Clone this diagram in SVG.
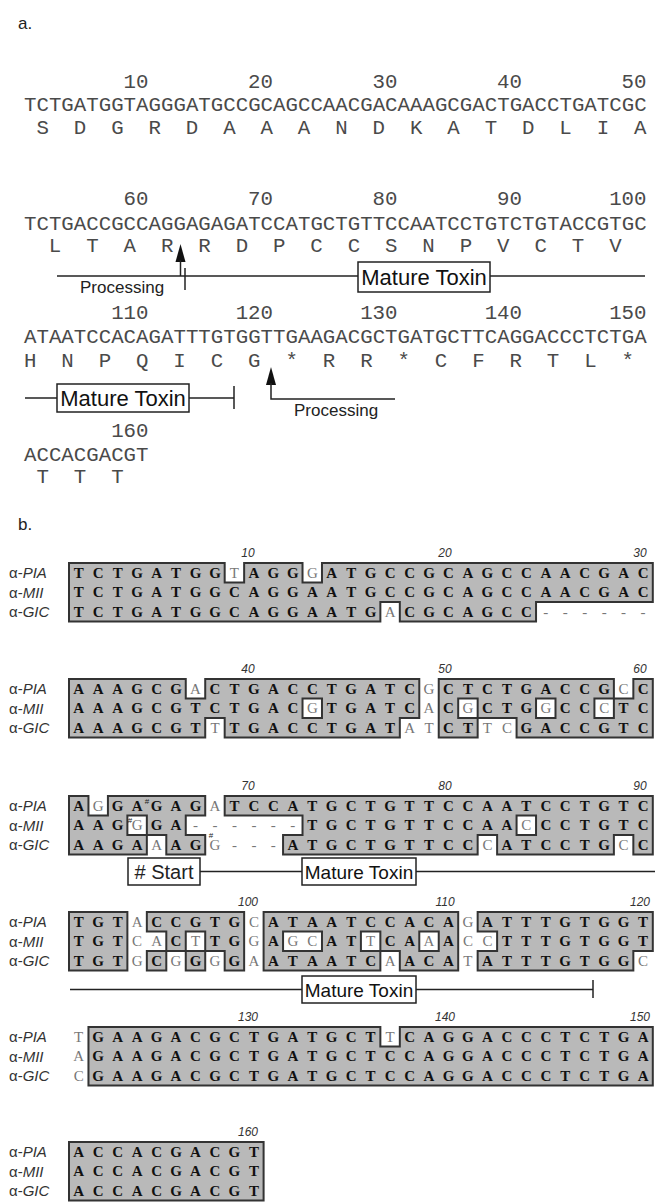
<svg xmlns="http://www.w3.org/2000/svg" width="655" height="1202" viewBox="0 0 655 1202">
<style>
.lab{font-family:'Liberation Sans',Arial,sans-serif;font-size:17px;fill:#222}
.m{font-family:'Liberation Mono','DejaVu Sans Mono',monospace;font-size:20.75px;fill:#4a4a4a}
.mc{font-family:'Liberation Mono','DejaVu Sans Mono',monospace;font-size:20.75px;fill:#4a4a4a;text-anchor:middle}
.me{font-family:'Liberation Mono','DejaVu Sans Mono',monospace;font-size:20.75px;fill:#4a4a4a;text-anchor:end}
.ann{font-family:'Liberation Sans',Arial,sans-serif;font-size:17px;fill:#222}
.mt{font-family:'Liberation Sans',Arial,sans-serif;font-size:22px;fill:#111;text-anchor:middle}
.mt2{font-family:'Liberation Sans',Arial,sans-serif;font-size:19px;fill:#111;text-anchor:middle}
.box{fill:#fff;stroke:#222;stroke-width:1.5}
.ln{stroke:#222;stroke-width:1.5;fill:none}
.sh{fill:#b9b9b9}
.ol{fill:none;stroke:#333;stroke-width:2;stroke-linecap:square}
.s{font-family:'Liberation Serif','Times New Roman',serif;font-size:15px;font-weight:bold;fill:#111;text-anchor:middle}
.w{font-weight:normal;fill:#777}
.nm{font-family:'Liberation Sans',Arial,sans-serif;font-size:12px;font-style:italic;fill:#333;text-anchor:middle}
.sq{font-family:'Liberation Sans',Arial,sans-serif;font-size:15px;fill:#333}
.it{font-style:italic}
.hs{font-family:'Liberation Sans',Arial,sans-serif;font-size:8px;fill:#222;text-anchor:middle}
</style>

<!-- Part a -->
<g id="part-a">
<text class="lab" x="18" y="29">a.</text>
<g id="a-row1">
<text class="me" x="148.5" y="88">10</text><text class="me" x="273" y="88">20</text><text class="me" x="397.5" y="88">30</text><text class="me" x="522" y="88">40</text><text class="me" x="646.5" y="88">50</text>
<text class="m" x="24" y="111">TCTGATGGTAGGGATGCCGCAGCCAACGACAAAGCGACTGACCTGATCGC</text>
<text class="mc" x="42.7 80 117.4 154.7 192.1 229.4 266.8 304.1 341.5 378.8 416.2 453.5 490.9 528.2 565.6 602.9 640.3" y="134">SDGRDAAANDKATDLIA</text>
</g>
<g id="a-row2">
<text class="me" x="148.5" y="205">60</text><text class="me" x="273" y="205">70</text><text class="me" x="397.5" y="205">80</text><text class="me" x="522" y="205">90</text><text class="me" x="646.5" y="205">100</text>
<text class="m" x="24" y="230">TCTGACCGCCAGGAGAGATCCATGCTGTTCCAATCCTGTCTGTACCGTGC</text>
<text class="mc" x="55.1 92.5 129.8 167.2 204.5 241.9 279.2 316.6 353.9 391.3 428.6 466 503.3 540.7 578 615.4" y="252">LTARRDPCCSNPVCTV</text>
</g>
<g id="a-row3">
<text class="me" x="148.5" y="319">110</text><text class="me" x="273" y="319">120</text><text class="me" x="397.5" y="319">130</text><text class="me" x="522" y="319">140</text><text class="me" x="646.5" y="319">150</text>
<text class="m" x="24" y="343">ATAATCCACAGATTTGTGGTTGAAGACGCTGATGCTTCAGGACCCTCTGA</text>
<text class="mc" x="30.2 67.6 104.9 142.3 179.6 217 254.3 291.7 329 366.4 403.7 441.1 478.4 515.8 553.1 590.5 627.8" y="367">HNPQICG*RR*CFRTL*</text>
</g>
<g id="a-row4">
<text class="me" x="148.5" y="437">160</text>
<text class="m" x="24" y="461">ACCACGACGT</text>
<text class="mc" x="42.7 80 117.4" y="483">TTT</text>
</g>
</g>

<g id="a-annotations">
<line class="ln" x1="57" y1="276" x2="645" y2="276"/>
<polygon points="180.5,244 175.5,262 185.5,262" fill="#111"/>
<line class="ln" x1="180.5" y1="260" x2="180.5" y2="276"/>
<line class="ln" x1="185" y1="268" x2="185" y2="290"/>
<text class="ann" x="80" y="293">Processing</text>
<g id="a-toxin1"><rect class="box" x="358" y="262" width="132" height="30"/><text class="mt" x="424" y="285">Mature Toxin</text></g>
<line class="ln" x1="25" y1="398" x2="234" y2="398"/>
<line class="ln" x1="234" y1="386" x2="234" y2="409"/>
<g id="a-toxin2"><rect class="box" x="57" y="384" width="132" height="28"/><text class="mt" x="123" y="406">Mature Toxin</text></g>
<polygon points="271,367 266,385 276,385" fill="#111"/>
<polyline class="ln" points="271,383 271,399 395,399"/>
<text class="ann" x="294" y="416">Processing</text>
</g>

<!-- Part b -->
<text class="lab" x="18" y="530">b.</text>

<g id="b-block1">
<text class="nm" x="248" y="557">10</text><text class="nm" x="445" y="557">20</text><text class="nm" x="640" y="557">30</text>
<text class="sq" x="9" y="578">α-<tspan class="it">PIA</tspan></text>
<text class="sq" x="9" y="597.5">α-<tspan class="it">MII</tspan></text>
<text class="sq" x="9" y="617">α-<tspan class="it">GIC</tspan></text>
<g transform="translate(69 563) scale(19.46 19.5)">
<path class="sh" d="M0 0H8V1H0Z M9 0H12V1H9Z M13 0H30V1H13Z M0 1H30V2H0Z M0 2H16V3H0Z M17 2H24V3H17Z"/>
<path class="ol" vector-effect="non-scaling-stroke" d="M0 0H8 M9 0H12 M13 0H30 M8 1H9 M12 1H13 M16 2H17 M24 2H30 M0 3H16 M17 3H24 M0 0V3 M30 0V2 M8 0V1 M9 0V1 M12 0V1 M13 0V1 M16 2V3 M17 2V3 M24 2V3"/>
</g>
<text class="s" x="78.7 98.2 117.7 137.1 156.6 176 195.5 215 234.4 253.9 273.3 292.8 312.3 331.7 351.2 370.6 390.1 409.6 429 448.5 467.9 487.4 506.9 526.3 545.8 565.2 584.7 604.2 623.6 643.1" y="577.75">TCTGATGG<tspan class="w">T</tspan>AGG<tspan class="w">G</tspan>ATGCCGCAGCCAACGAC</text>
<text class="s" x="78.7 98.2 117.7 137.1 156.6 176 195.5 215 234.4 253.9 273.3 292.8 312.3 331.7 351.2 370.6 390.1 409.6 429 448.5 467.9 487.4 506.9 526.3 545.8 565.2 584.7 604.2 623.6 643.1" y="597.25">TCTGATGGCAGGAATGCCGCAGCCAACGAC</text>
<text class="s" x="78.7 98.2 117.7 137.1 156.6 176 195.5 215 234.4 253.9 273.3 292.8 312.3 331.7 351.2 370.6 390.1 409.6 429 448.5 467.9 487.4 506.9 526.3 545.8 565.2 584.7 604.2 623.6 643.1" y="616.75">TCTGATGGCAGGAATG<tspan class="w">A</tspan>CGCAGCC<tspan class="w">------</tspan></text>
</g>

<g id="b-block2">
<text class="nm" x="248" y="673">40</text><text class="nm" x="445" y="673">50</text><text class="nm" x="640" y="673">60</text>
<text class="sq" x="9" y="694">α-<tspan class="it">PIA</tspan></text>
<text class="sq" x="9" y="713.5">α-<tspan class="it">MII</tspan></text>
<text class="sq" x="9" y="733">α-<tspan class="it">GIC</tspan></text>
<g transform="translate(69 679) scale(19.46 19.5)">
<path class="sh" d="M0 0H6V1H0Z M7 0H18V1H7Z M19 0H28V1H19Z M29 0H30V1H29Z M0 1H12V2H0Z M13 1H18V2H13Z M19 1H20V2H19Z M21 1H24V2H21Z M25 1H27V2H25Z M28 1H30V2H28Z M0 2H7V3H0Z M8 2H17V3H8Z M19 2H21V3H19Z M23 2H30V3H23Z"/>
<path class="ol" vector-effect="non-scaling-stroke" d="M0 0H6 M7 0H18 M19 0H28 M29 0H30 M6 1H7 M12 1H13 M20 1H21 M24 1H25 M27 1H29 M7 2H8 M12 2H13 M17 2H18 M20 2H23 M24 2H25 M27 2H28 M0 3H7 M8 3H17 M19 3H21 M23 3H30 M0 0V3 M6 0V1 M7 0V1 M7 2V3 M8 2V3 M12 1V2 M13 1V2 M17 2V3 M18 0V2 M19 0V3 M20 1V2 M21 1V3 M23 2V3 M24 1V2 M25 1V2 M27 1V2 M28 0V2 M29 0V1 M30 0V3"/>
</g>
<text class="s" x="78.7 98.2 117.7 137.1 156.6 176 195.5 215 234.4 253.9 273.3 292.8 312.3 331.7 351.2 370.6 390.1 409.6 429 448.5 467.9 487.4 506.9 526.3 545.8 565.2 584.7 604.2 623.6 643.1" y="693.75">AAAGCG<tspan class="w">A</tspan>CTGACCTGATC<tspan class="w">G</tspan>CTCTGACCG<tspan class="w">C</tspan>C</text>
<text class="s" x="78.7 98.2 117.7 137.1 156.6 176 195.5 215 234.4 253.9 273.3 292.8 312.3 331.7 351.2 370.6 390.1 409.6 429 448.5 467.9 487.4 506.9 526.3 545.8 565.2 584.7 604.2 623.6 643.1" y="713.25">AAAGCGTCTGAC<tspan class="w">G</tspan>TGATC<tspan class="w">A</tspan>C<tspan class="w">G</tspan>CTG<tspan class="w">G</tspan>CC<tspan class="w">C</tspan>TC</text>
<text class="s" x="78.7 98.2 117.7 137.1 156.6 176 195.5 215 234.4 253.9 273.3 292.8 312.3 331.7 351.2 370.6 390.1 409.6 429 448.5 467.9 487.4 506.9 526.3 545.8 565.2 584.7 604.2 623.6 643.1" y="732.75">AAAGCGT<tspan class="w">T</tspan>TGACCTGAT<tspan class="w">AT</tspan>CT<tspan class="w">TC</tspan>GACCGTC</text>
</g>

<g id="b-block3">
<text class="nm" x="248" y="790">70</text><text class="nm" x="445" y="790">80</text><text class="nm" x="640" y="790">90</text>
<text class="sq" x="9" y="811">α-<tspan class="it">PIA</tspan></text>
<text class="sq" x="9" y="830.5">α-<tspan class="it">MII</tspan></text>
<text class="sq" x="9" y="850">α-<tspan class="it">GIC</tspan></text>
<g transform="translate(69 796) scale(19.46 19.5)">
<path class="sh" d="M0 0H1V1H0Z M2 0H7V1H2Z M8 0H30V1H8Z M0 1H3V2H0Z M4 1H6V2H4Z M12 1H23V2H12Z M24 1H30V2H24Z M0 2H4V3H0Z M5 2H7V3H5Z M11 2H21V3H11Z M22 2H28V3H22Z M29 2H30V3H29Z"/>
<path class="ol" vector-effect="non-scaling-stroke" d="M0 0H1 M2 0H7 M8 0H30 M1 1H2 M3 1H4 M6 1H7 M8 1H12 M23 1H24 M3 2H5 M6 2H7 M11 2H12 M21 2H22 M23 2H24 M28 2H29 M0 3H4 M5 3H7 M11 3H21 M22 3H28 M29 3H30 M0 0V3 M1 0V1 M2 0V1 M3 1V2 M4 1V3 M5 2V3 M6 1V2 M7 0V1 M7 2V3 M8 0V1 M11 2V3 M12 1V2 M21 2V3 M22 2V3 M23 1V2 M24 1V2 M28 2V3 M29 2V3 M30 0V3"/>
</g>
<text class="s" x="78.7 98.2 117.7 137.1 156.6 176 195.5 215 234.4 253.9 273.3 292.8 312.3 331.7 351.2 370.6 390.1 409.6 429 448.5 467.9 487.4 506.9 526.3 545.8 565.2 584.7 604.2 623.6 643.1" y="810.75">A<tspan class="w">G</tspan>GAGAG<tspan class="w">A</tspan>TCCATGCTGTTCCAATCCTGTC</text>
<text class="s" x="78.7 98.2 117.7 137.1 156.6 176 195.5 215 234.4 253.9 273.3 292.8 312.3 331.7 351.2 370.6 390.1 409.6 429 448.5 467.9 487.4 506.9 526.3 545.8 565.2 584.7 604.2 623.6 643.1" y="830.25">AAG<tspan class="w">G</tspan>GA<tspan class="w">------</tspan>TGCTGTTCCAA<tspan class="w">C</tspan>CCTGTC</text>
<text class="s" x="78.7 98.2 117.7 137.1 156.6 176 195.5 215 234.4 253.9 273.3 292.8 312.3 331.7 351.2 370.6 390.1 409.6 429 448.5 467.9 487.4 506.9 526.3 545.8 565.2 584.7 604.2 623.6 643.1" y="849.75">AAGA<tspan class="w">A</tspan>AG<tspan class="w">G---</tspan>ATGCTGTTCC<tspan class="w">C</tspan>ATCCTG<tspan class="w">C</tspan>C</text>
<text class="hs" x="147" y="804">#</text>
<text class="hs" x="130" y="823">#</text>
<text class="hs" x="211" y="838">#</text>
</g>

<g id="b-start-box"><rect class="box" x="128" y="858" width="72" height="27"/><text class="ann" x="164" y="878.5" text-anchor="middle" style="font-size:20px"># Start</text></g>
<g id="b-toxin1"><rect class="box" x="302" y="858" width="114" height="27"/><text class="mt2" x="359" y="878.5">Mature Toxin</text></g>

<g id="b-block4">
<text class="nm" x="248" y="906">100</text><text class="nm" x="445" y="906">110</text><text class="nm" x="640" y="906">120</text>
<text class="sq" x="9" y="927">α-<tspan class="it">PIA</tspan></text>
<text class="sq" x="9" y="946.5">α-<tspan class="it">MII</tspan></text>
<text class="sq" x="9" y="966">α-<tspan class="it">GIC</tspan></text>
<g transform="translate(69 912) scale(19.46 19.5)">
<path class="sh" d="M0 0H3V1H0Z M4 0H9V1H4Z M10 0H20V1H10Z M21 0H30V1H21Z M0 1H3V2H0Z M5 1H6V2H5Z M7 1H9V2H7Z M10 1H11V2H10Z M13 1H15V2H13Z M16 1H18V2H16Z M19 1H20V2H19Z M22 1H30V2H22Z M0 2H3V3H0Z M4 2H5V3H4Z M6 2H7V3H6Z M8 2H9V3H8Z M10 2H16V3H10Z M17 2H20V3H17Z M21 2H29V3H21Z"/>
<path class="ol" vector-effect="non-scaling-stroke" d="M0 0H3 M4 0H9 M10 0H20 M21 0H30 M4 1H5 M6 1H7 M11 1H13 M15 1H16 M18 1H19 M21 1H22 M4 2H8 M11 2H13 M15 2H17 M18 2H19 M21 2H22 M29 2H30 M0 3H3 M4 3H5 M6 3H7 M8 3H9 M10 3H16 M17 3H20 M21 3H29 M0 0V3 M3 0V3 M4 0V1 M4 2V3 M5 1V3 M6 1V3 M7 1V3 M8 2V3 M9 0V3 M10 0V3 M11 1V2 M13 1V2 M15 1V2 M16 1V3 M17 2V3 M18 1V2 M19 1V2 M20 0V3 M21 0V1 M21 2V3 M22 1V2 M29 2V3 M30 0V2"/>
</g>
<text class="s" x="78.7 98.2 117.7 137.1 156.6 176 195.5 215 234.4 253.9 273.3 292.8 312.3 331.7 351.2 370.6 390.1 409.6 429 448.5 467.9 487.4 506.9 526.3 545.8 565.2 584.7 604.2 623.6 643.1" y="926.75">TGT<tspan class="w">A</tspan>CCGTG<tspan class="w">C</tspan>ATAATCCACA<tspan class="w">G</tspan>ATTTGTGGT</text>
<text class="s" x="78.7 98.2 117.7 137.1 156.6 176 195.5 215 234.4 253.9 273.3 292.8 312.3 331.7 351.2 370.6 390.1 409.6 429 448.5 467.9 487.4 506.9 526.3 545.8 565.2 584.7 604.2 623.6 643.1" y="946.25">TGT<tspan class="w">CA</tspan>C<tspan class="w">T</tspan>TG<tspan class="w">G</tspan>A<tspan class="w">GC</tspan>AT<tspan class="w">T</tspan>CA<tspan class="w">A</tspan>A<tspan class="w">CC</tspan>TTTGTGGT</text>
<text class="s" x="78.7 98.2 117.7 137.1 156.6 176 195.5 215 234.4 253.9 273.3 292.8 312.3 331.7 351.2 370.6 390.1 409.6 429 448.5 467.9 487.4 506.9 526.3 545.8 565.2 584.7 604.2 623.6 643.1" y="965.75">TGT<tspan class="w">G</tspan>C<tspan class="w">G</tspan>G<tspan class="w">G</tspan>G<tspan class="w">A</tspan>ATAATC<tspan class="w">A</tspan>ACA<tspan class="w">T</tspan>ATTTGTGG<tspan class="w">C</tspan></text>
</g>

<g id="b-toxin2"><rect class="box" x="302" y="976" width="114" height="27"/><text class="mt2" x="359" y="996.5">Mature Toxin</text></g>

<g id="b-block5">
<text class="nm" x="248" y="1021">130</text><text class="nm" x="445" y="1021">140</text><text class="nm" x="640" y="1021">150</text>
<text class="sq" x="9" y="1042">α-<tspan class="it">PIA</tspan></text>
<text class="sq" x="9" y="1061.5">α-<tspan class="it">MII</tspan></text>
<text class="sq" x="9" y="1081">α-<tspan class="it">GIC</tspan></text>
<g transform="translate(69 1027) scale(19.46 19.5)">
<path class="sh" d="M1 0H16V1H1Z M17 0H30V1H17Z M1 1H30V3H1Z"/>
<path class="ol" vector-effect="non-scaling-stroke" d="M1 0H16 M17 0H30 M16 1H17 M1 3H30 M1 0V3 M16 0V1 M17 0V1 M30 0V3"/>
</g>
<text class="s" x="78.7 98.2 117.7 137.1 156.6 176 195.5 215 234.4 253.9 273.3 292.8 312.3 331.7 351.2 370.6 390.1 409.6 429 448.5 467.9 487.4 506.9 526.3 545.8 565.2 584.7 604.2 623.6 643.1" y="1041.75"><tspan class="w">T</tspan>GAAGACGCTGATGCT<tspan class="w">T</tspan>CAGGACCCTCTGA</text>
<text class="s" x="78.7 98.2 117.7 137.1 156.6 176 195.5 215 234.4 253.9 273.3 292.8 312.3 331.7 351.2 370.6 390.1 409.6 429 448.5 467.9 487.4 506.9 526.3 545.8 565.2 584.7 604.2 623.6 643.1" y="1061.25"><tspan class="w">A</tspan>GAAGACGCTGATGCTCCAGGACCCTCTGA</text>
<text class="s" x="78.7 98.2 117.7 137.1 156.6 176 195.5 215 234.4 253.9 273.3 292.8 312.3 331.7 351.2 370.6 390.1 409.6 429 448.5 467.9 487.4 506.9 526.3 545.8 565.2 584.7 604.2 623.6 643.1" y="1080.75"><tspan class="w">C</tspan>GAAGACGCTGATGCTCCAGGACCCTCTGA</text>
</g>

<g id="b-block6">
<text class="nm" x="248" y="1136">160</text>
<text class="sq" x="9" y="1157">α-<tspan class="it">PIA</tspan></text>
<text class="sq" x="9" y="1176.5">α-<tspan class="it">MII</tspan></text>
<text class="sq" x="9" y="1196">α-<tspan class="it">GIC</tspan></text>
<g transform="translate(69 1142) scale(19.46 19.5)">
<path class="sh" d="M0 0H10V3H0Z"/>
<path class="ol" vector-effect="non-scaling-stroke" d="M0 0H10V3H0Z"/>
</g>
<text class="s" x="78.7 98.2 117.7 137.1 156.6 176 195.5 215 234.4 253.9" y="1156.75">ACCACGACGT</text>
<text class="s" x="78.7 98.2 117.7 137.1 156.6 176 195.5 215 234.4 253.9" y="1176.25">ACCACGACGT</text>
<text class="s" x="78.7 98.2 117.7 137.1 156.6 176 195.5 215 234.4 253.9" y="1195.75">ACCACGACGT</text>
</g>

<g id="connectors">
<line class="ln" x1="200" y1="871.5" x2="302" y2="871.5"/>
<line class="ln" x1="416" y1="871.5" x2="655" y2="871.5"/>
<line class="ln" x1="70" y1="989.5" x2="302" y2="989.5"/>
<line class="ln" x1="416" y1="989.5" x2="593" y2="989.5"/>
<line class="ln" x1="593" y1="980" x2="593" y2="998"/>
</g>
</svg>
